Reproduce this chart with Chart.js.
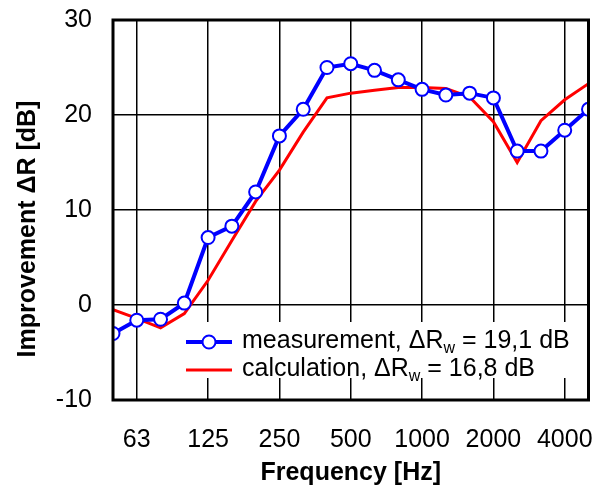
<!DOCTYPE html>
<html>
<head>
<meta charset="utf-8">
<script src="https://cdn.jsdelivr.net/npm/chart.js@4"></script>
<style>
  body { margin: 0; background: #fff; }
  #wrap { width: 597px; height: 488px; }
</style>
</head>
<body>
<div id="wrap"><canvas id="improvementChart"></canvas></div>
<script>
// third-octave bands 50 Hz .. 5000 Hz
const bands = [50, 63, 80, 100, 125, 160, 200, 250, 315, 400, 500, 630, 800, 1000, 1250, 1600, 2000, 2500, 3150, 4000, 5000]
const measurement = [-3.0, -1.6, -1.5, 0.2, 7.1, 8.3, 11.9, 17.8, 20.6, 25.0, 25.4, 24.7, 23.7, 22.7, 22.1, 22.3, 21.8, 16.2, 16.2, 18.4, 20.6]
const calculation = [-0.5, -1.4, -2.4, -0.9, 2.6, 6.8, 10.9, 14.2, 18.2, 21.8, 22.3, 22.6, 22.9, 22.9, 22.8, 21.9, 19.3, 15.0, 19.4, 21.6, 23.3]
const tickLabels = ['63', '125', '250', '500', '1000', '2000', '4000']
const legendLabels = [
  ['measurement, \u0394R', 'w', ' = 19,1 dB'],
  ['calculation, \u0394R', 'w', ' = 16,8 dB']
]
const yTitle = 'Improvement \u0394R [dB]'

const FONT = 'Arial, "Liberation Sans", sans-serif'
Chart.defaults.font.family = FONT
Chart.defaults.font.size = 25
Chart.defaults.color = '#000'

// band index of each labelled frequency
const tickIdx = tickLabels.map(l => bands.indexOf(Number(l) === 63 ? 63 : Number(l)))
const toPoints = (vals) => vals.map((v, i) => ({ x: i, y: v }))

const legendBox = {
  id: 'legendBox',
  beforeDatasetsDraw(chart) {
    const { ctx, chartArea } = chart
    ctx.save()
    ctx.fillStyle = '#fff'
    ctx.fillRect(180, 322, chartArea.right - 181, 56)
    ctx.restore()
  },
  afterDraw(chart) {
    const { ctx, chartArea } = chart
    ctx.save()
    // plot frame
    ctx.strokeStyle = '#000'
    ctx.lineWidth = 3
    ctx.strokeRect(chartArea.left, chartArea.top, chartArea.right - chartArea.left, chartArea.bottom - chartArea.top)

    // y title, sits a bit below the plot centre in the original
    ctx.save()
    ctx.translate(28, 229)
    ctx.rotate(-Math.PI / 2)
    ctx.font = 'bold 25px ' + FONT
    ctx.textAlign = 'center'
    ctx.textBaseline = 'middle'
    ctx.fillStyle = '#000'
    ctx.fillText(yTitle, 0, 0)
    ctx.restore()

    const rows = [342, 370]
    chart.data.datasets.forEach((ds, i) => {
      const y = rows[i]
      ctx.strokeStyle = ds.borderColor
      ctx.lineWidth = ds.borderWidth
      ctx.beginPath()
      ctx.moveTo(186, y)
      ctx.lineTo(232, y)
      ctx.stroke()
      if (ds.pointRadius > 0) {
        ctx.beginPath()
        ctx.arc(209, y, ds.pointRadius, 0, Math.PI * 2)
        ctx.fillStyle = '#fff'
        ctx.fill()
        ctx.lineWidth = ds.pointBorderWidth
        ctx.stroke()
      }
      const [a, sub, b] = legendLabels[i]
      ctx.fillStyle = '#000'
      ctx.textBaseline = 'alphabetic'
      ctx.font = '25px ' + FONT
      let x = 242
      ctx.fillText(a, x, y + 6)
      x += ctx.measureText(a).width
      ctx.font = '16px ' + FONT
      ctx.fillText(sub, x, y + 11)
      x += ctx.measureText(sub).width
      ctx.font = '25px ' + FONT
      ctx.fillText(b, x, y + 6)
    })
    ctx.restore()
  }
}

new Chart(document.getElementById('improvementChart'), {
  type: 'line',
  data: {
    datasets: [{
      label: 'measurement',
      data: toPoints(measurement),
      borderColor: '#0000ff',
      borderWidth: 4,
      pointRadius: 6.5,
      pointBorderWidth: 2,
      pointBackgroundColor: '#fff',
      pointBorderColor: '#0000ff',
      order: 0
    }, {
      label: 'calculation',
      data: toPoints(calculation),
      borderColor: '#ff0000',
      borderWidth: 3,
      pointRadius: 0,
      order: 1
    }]
  },
  options: {
    responsive: true,
    maintainAspectRatio: false,
    animation: false,
    layout: { padding: { top: 20, right: 7, left: 0, bottom: 0 } },
    plugins: {
      legend: { display: false },
      tooltip: { enabled: false }
    },
    scales: {
      x: {
        type: 'linear',
        min: 0,
        max: bands.length - 1,
        afterBuildTicks: (scale) => {
          scale.ticks = tickIdx.map(v => ({ value: v }))
        },
        afterFit: (scale) => {
          scale.height = 88
          scale.paddingLeft = 0
          scale.paddingRight = 0
        },
        ticks: {
          callback: (v) => tickLabels[tickIdx.indexOf(v)],
          maxRotation: 0,
          autoSkip: false,
          padding: 25
        },
        grid: { color: '#000', lineWidth: 1.5, drawTicks: false },
        border: { display: false },
        title: {
          display: true,
          text: 'Frequency [Hz]',
          font: { size: 25, weight: 'bold' },
          padding: { top: 1, bottom: 0 }
        }
      },
      y: {
        min: -10,
        max: 30,
        afterFit: (scale) => {
          scale.width = 113
          scale.paddingTop = 0
          scale.paddingBottom = 0
        },
        ticks: { stepSize: 10, padding: 21 },
        grid: { color: '#000', lineWidth: 1.5, drawTicks: false },
        border: { display: false }
      }
    }
  },
  plugins: [legendBox]
})
</script>
</body>
</html>
